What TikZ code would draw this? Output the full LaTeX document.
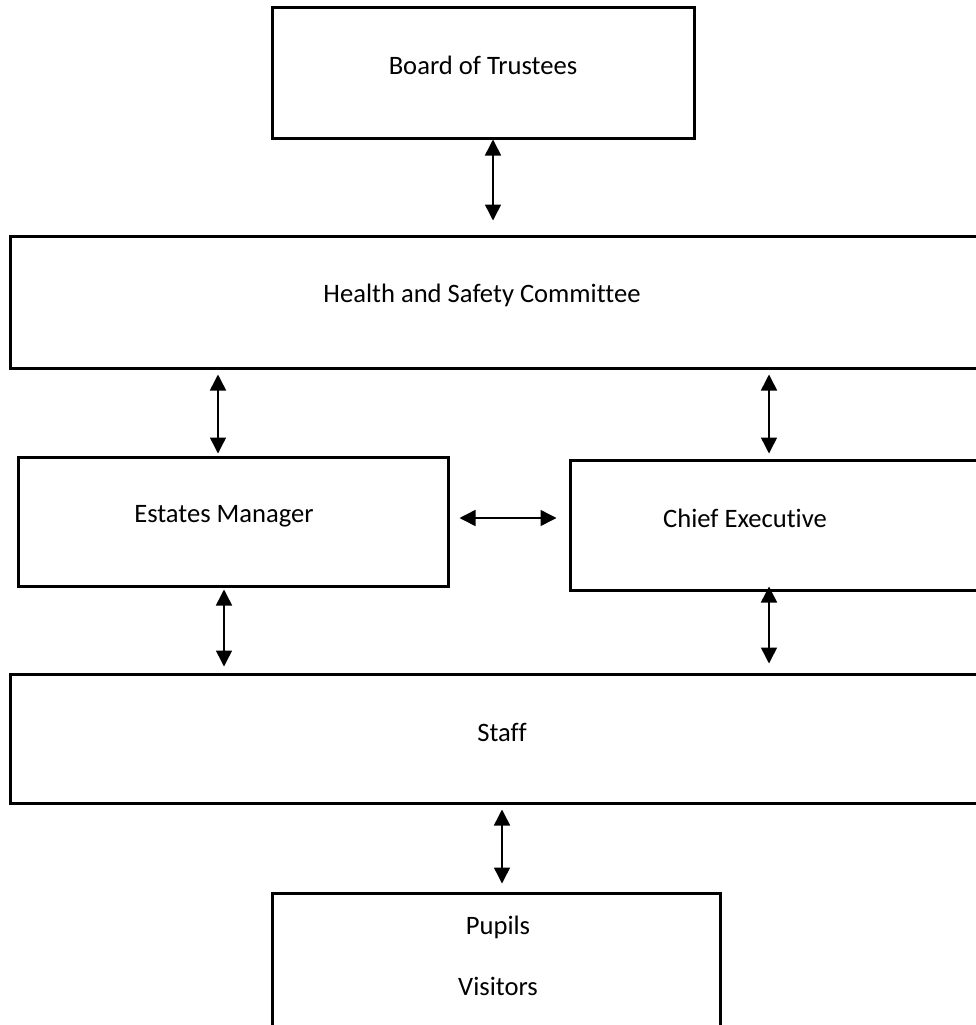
\documentclass[tikz,border=0pt]{standalone}
\usepackage{fontspec}
\setmainfont[Ligatures=NoCommon]{Carlito}
\usetikzlibrary{arrows.meta}

\begin{document}
\begin{tikzpicture}[x=1pt,y=-1pt,
		font=\fontsize{26.6pt}{32pt}\selectfont,
		box/.style={draw,line width=3pt,rectangle,inner sep=0pt},
		link/.style={{Triangle[length=16pt,width=16pt]}-{Triangle[length=16pt,width=16pt]},line width=1.5pt}]

		\useasboundingbox (0,0) rectangle (976,1025);
		\clip (0,0) rectangle (976,1025);

		\node[box,minimum width=422pt,minimum height=130pt,label={[yshift=8pt]center:Board of Trustees}] (board) at (483,73) {};
		\node[box,minimum width=990pt,minimum height=132pt,label={[xshift=-23pt,yshift=7pt]center:Health and Safety Committee}] (hs) at (505,302) {};
		\node[box,minimum width=430pt,minimum height=129pt,label={[xshift=-9pt,yshift=5pt]center:Estates Manager}] (em) at (233,521.5) {};
		\node[box,minimum width=430pt,minimum height=130pt,label={[xshift=-40pt,yshift=7pt]center:Chief Executive}] (ce) at (785,525) {};
		\node[box,minimum width=990pt,minimum height=129pt,label={[xshift=-3pt,yshift=6pt]center:Staff}] (staff) at (505,738.5) {};
		\node[box,minimum width=448pt,minimum height=157pt,label={[align=center,xshift=2pt,yshift=16pt]center:Pupils\\[29pt]Visitors}] (pupils) at (496,971.5) {};

		\draw[link,shorten >=14pt] ([xshift=10pt]board.south) -- ([xshift=10pt]board.south |- hs.north);
		\draw[link,shorten <=5pt,shorten >=2pt] ([xshift=-15pt]em.north |- hs.south) -- ([xshift=-15pt]em.north);
		\draw[link,shorten <=5pt,shorten >=5pt] ([xshift=-16pt]ce.north |- hs.south) -- ([xshift=-16pt]ce.north);
		\draw[link,shorten <=10pt,shorten >=12pt] ([yshift=3.5pt]em.east) -- ([yshift=3.5pt]em.east -| ce.west);
		\draw[link,shorten <=2pt,shorten >=6pt] ([xshift=-9pt]em.south) -- ([xshift=-9pt]em.south |- staff.north);
		\draw[link,shorten <=-5pt,shorten >=9pt] ([xshift=-16pt]ce.south) -- ([xshift=-16pt]ce.south |- staff.north);
		\draw[link,shorten <=5pt,shorten >=8pt] ([xshift=6pt]staff.south -| pupils.north) -- ([xshift=6pt]pupils.north);
	\end{tikzpicture}
\end{document}
